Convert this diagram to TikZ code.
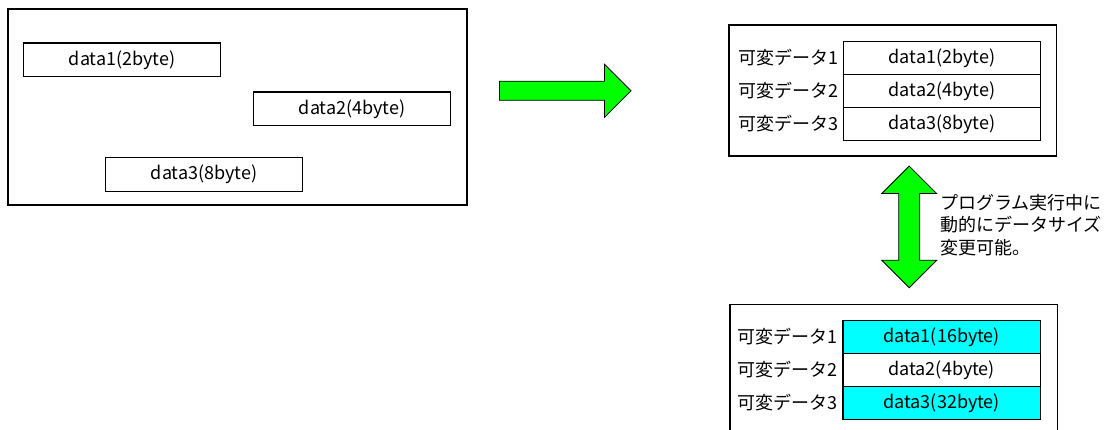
\documentclass[tikz,border=0pt]{standalone}
\usepackage{fontspec}
\setmainfont{Noto Sans CJK JP}
\usetikzlibrary{positioning,shapes.arrows}
\definecolor{arrowgreen}{RGB}{0,255,0}
\definecolor{grown}{RGB}{0,255,255}
\tikzset{
	frame/.style={draw,line width=1.2pt},
	databox/.style={draw,line width=1.2pt,minimum width=197pt,minimum height=33.7pt,inner sep=0pt},
	rowbox/.style={draw,line width=1.2pt,minimum width=197.4pt,minimum height=32.7pt,inner sep=0pt},
	varname/.style={inner sep=0pt,left=4.5pt of #1},
	bigarrow/.style={draw,fill=arrowgreen,line width=0.8pt,inner xsep=0pt,inner ysep=0pt}
}
\begin{document}
\begin{tikzpicture}[x=1pt,y=-1pt,font=\fontsize{18pt}{22.3pt}\selectfont]
	\useasboundingbox (0,0) rectangle (1111,430);

	% left: data scattered in memory
	\node[frame,minimum width=459pt,minimum height=196pt] (mem) at (237.5,107) {};
	\node[databox] (d1) at (122.2,59.9) {data1(2byte)};
	\node[databox] (d2) at (352.2,108.9) {data2(4byte)};
	\node[databox] (d3) at (204.2,174.5) {data3(8byte)};

	\node[single arrow,bigarrow,anchor=tail,minimum height=131.7pt,minimum width=52.3pt,
		single arrow head extend=17pt,text height=18.3pt] (go) at (499,90.8) {};

	% right: variable-size data
	\node[frame,minimum width=327.7pt,minimum height=131pt] (vtop) at (892.9,90.5) {};
	\foreach \i/\s in {1/2,2/4,3/8} {
		\node[rowbox] (t\i) at (942,{58+(\i-1)*32.9}) {data\i(\s byte)};
		\node[varname=t\i] (tl\i) {可変データ\i};
	}

	\node[double arrow,bigarrow,rotate=90,minimum height=121.7pt,minimum width=54pt,
		double arrow head extend=16.9pt,text height=20.3pt] (resize) at (909.2,226.9) {};
	\node[anchor=west,align=left,inner sep=0pt] (note) at (940,225)
		{プログラム実行中に\\動的にデータサイズ\\変更可能。};

	\node[frame,anchor=north west,minimum width=327.4pt,minimum height=140pt] (vbot) at (729.3,304) {};
	\foreach \i/\s/\c in {1/16/grown,2/4/white,3/32/grown} {
		\node[rowbox,fill=\c] (b\i) at (941.7,{337+(\i-1)*32.9}) {data\i(\s byte)};
		\node[varname=b\i] (bl\i) {可変データ\i};
	}
\end{tikzpicture}
\end{document}
